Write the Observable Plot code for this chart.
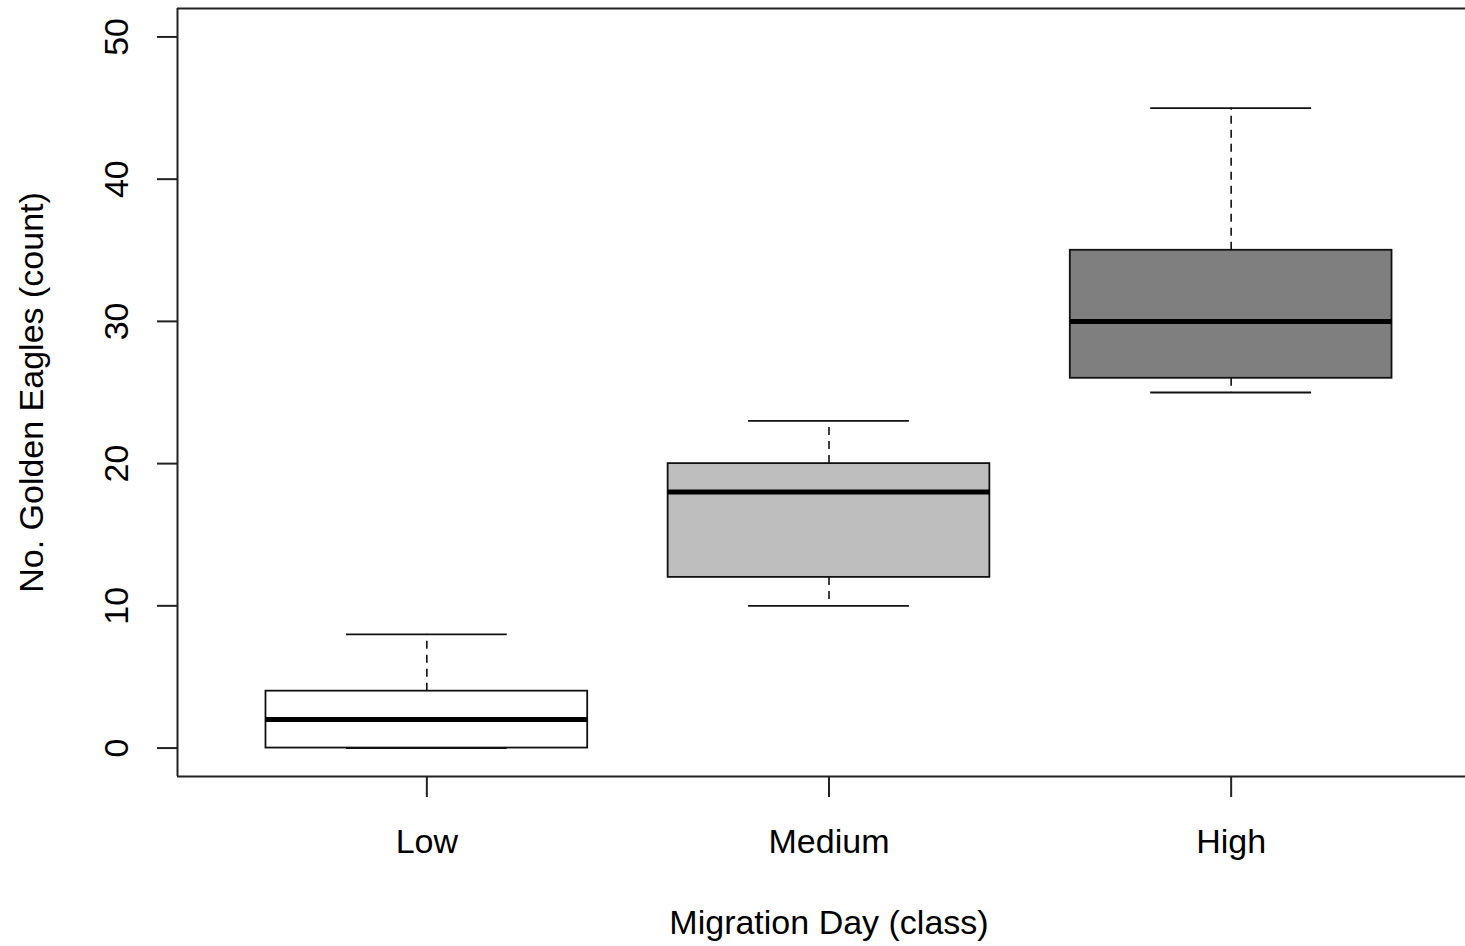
<!DOCTYPE html>
<html><head><meta charset="utf-8">
<script src="https://cdn.jsdelivr.net/npm/d3@7"></script>
<script src="https://cdn.jsdelivr.net/npm/@observablehq/plot@0.6"></script>
<style>
html,body{margin:0;padding:0;background:#fff;}
svg{display:block}
[aria-label^="y-axis"] line,[aria-label^="y-axis"] path,[aria-label^="x-axis"] line,[aria-label^="x-axis"] path{stroke-width:2px;stroke:#222;}
</style>
</head><body><div id="chart"></div>
<script>
const categories = ["Low", "Medium", "High"];
const whiskerLow = [0, 10, 25];
const quartile1 = [0, 12, 26];
const medians = [2, 18, 30];
const quartile3 = [4, 20, 35];
const whiskerHigh = [8, 23, 45];
const yTicks = [0, 10, 20, 30, 40, 50];
const xTicks = [1, 2, 3];
const xTitle = "Migration Day (class)";
const yTitle = "No. Golden Eagles (count)";
const boxFills = ["#FFFFFF", "#BEBEBE", "#7F7F7F"];

const rows = categories.map((c, i) => ({
  category: c, pos: i + 1,
  lo: whiskerLow[i], q1: quartile1[i], med: medians[i], q3: quartile3[i], hi: whiskerHigh[i]
}));
const xDomain = [0.38, 3.62];
const yDomain = [-2, 52];
const font = "'Liberation Sans', Arial, Helvetica, sans-serif";
const fs = 34;
const line = "#111";

const chart = Plot.plot({
  width: 1465, height: 946,
  marginLeft: 177, marginRight: 0, marginTop: 8, marginBottom: 170,
  style: {fontFamily: font, fontSize: fs + "px", background: "#fff", color: "#000"},
  x: {type: "linear", domain: xDomain, range: [177, 1480], ticks: xTicks, tickSize: 21, tickFormat: () => "", label: null},
  y: {type: "linear", domain: yDomain, ticks: yTicks, tickSize: 20, tickFormat: () => "", label: null},
  color: {domain: categories, range: boxFills},
  marks: [
    Plot.ruleX(rows, {x: "pos", y1: "q3", y2: "hi", stroke: line, strokeWidth: 1.6, strokeDasharray: "8,6"}),
    Plot.ruleX(rows, {x: "pos", y1: "q1", y2: "lo", stroke: line, strokeWidth: 1.6, strokeDasharray: "8,6"}),
    Plot.ruleY(rows, {y: "hi", x1: d => d.pos - 0.2, x2: d => d.pos + 0.2, stroke: line, strokeWidth: 1.8}),
    Plot.ruleY(rows, {y: "lo", x1: d => d.pos - 0.2, x2: d => d.pos + 0.2, stroke: line, strokeWidth: 1.8}),
    Plot.rect(rows, {x1: d => d.pos - 0.4, x2: d => d.pos + 0.4, y1: "q1", y2: "q3", fill: "category", stroke: line, strokeWidth: 1.8}),
    Plot.ruleY(rows, {y: "med", x1: d => d.pos - 0.4, x2: d => d.pos + 0.4, stroke: "#000", strokeWidth: 5}),
    Plot.ruleX([xDomain[0]], {stroke: "#222", strokeWidth: 2}),
    Plot.ruleY(yDomain, {stroke: "#222", strokeWidth: 2}),
    Plot.text(yTicks, {y: d => d, text: d => String(d), frameAnchor: "left", textAnchor: "middle", rotate: -90, lineAnchor: "middle", dx: -60, fill: "#000", fontSize: fs}),
    Plot.text(rows, {x: "pos", text: "category", frameAnchor: "bottom", textAnchor: "middle", lineAnchor: "top", dy: 52, fill: "#000", fontSize: fs}),
    Plot.text([xTitle], {x: () => (xDomain[0] + xDomain[1]) / 2, text: d => d, frameAnchor: "bottom", textAnchor: "middle", lineAnchor: "top", dy: 133, fill: "#000", fontSize: fs}),
    Plot.text([yTitle], {text: d => d, frameAnchor: "left", textAnchor: "middle", rotate: -90, lineAnchor: "middle", dx: -145, fill: "#000", fontSize: fs})
  ]
});
document.getElementById("chart").appendChild(chart);
</script>
</body></html>
